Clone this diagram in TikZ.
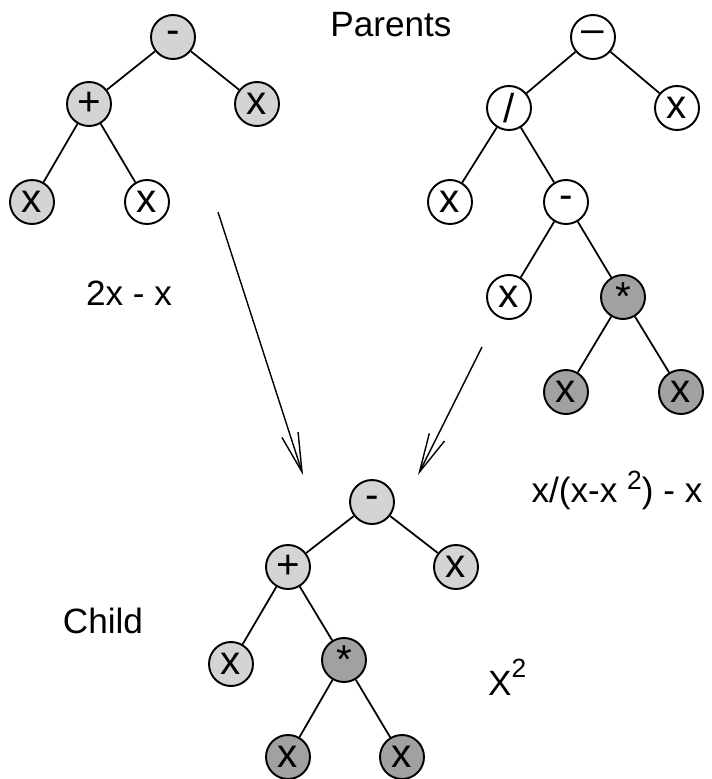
\documentclass[tikz,border=0pt]{standalone}
\usepackage{fontspec}
\setmainfont{Liberation Sans}
\usepackage{tikz}
\usetikzlibrary{arrows.meta}
\usepackage{xcolor}

\definecolor{lightfill}{gray}{0.83}
\definecolor{darkfill}{gray}{0.63}
\newcommand{\supnum}[2]{\raisebox{#1}{\fontsize{15}{17}\selectfont #2}}

\begin{document}
\begin{tikzpicture}[
    tnode/.style={circle, draw, line width=1.1pt, minimum size=0.88cm, inner sep=0pt, font=\fontsize{23}{26}\selectfont},
    plain/.style={tnode, fill=white},
    light/.style={tnode, fill=lightfill},
    dark/.style={tnode, fill=darkfill},
    edge/.style={line width=1pt},
    lbl/.style={font=\fontsize{20}{24}\selectfont},
    arr/.style={-{Straight Barb[length=0.78cm, width=0.34cm]}, line width=0.8pt}
]
\useasboundingbox (0,0) rectangle (14.24,-15.58);

% Left parent: 2x - x
\node[light] (lroot) at (3.46,-0.74) {-};
\node[light] (lplus) at (1.78,-2.08) {+};
\node[light] (lx3) at (5.14,-2.08) {x};
\node[light] (lx1) at (0.64,-4.04) {x};
\node[plain] (lx2) at (2.94,-4.04) {x};

\draw[edge] (lroot) -- (lplus);
\draw[edge] (lroot) -- (lx3);
\draw[edge] (lplus) -- (lx1);
\draw[edge] (lplus) -- (lx2);

% Right parent: x/(x-x^2) - x
\node[plain] (rroot) at (11.86,-0.74) {–};
\node[plain] (rdiv) at (10.18,-2.16) {/};
\node[plain] (rx5) at (13.54,-2.16) {x};
\node[plain] (rx1) at (9.0,-4.04) {x};
\node[plain] (rminus) at (11.32,-4.04) {-};
\node[plain] (rx2) at (10.18,-5.94) {x};
\node[dark] (rstar) at (12.46,-5.94) {*};
\node[dark] (rx3) at (11.32,-7.84) {x};
\node[dark] (rx4) at (13.62,-7.84) {x};

\draw[edge] (rroot) -- (rdiv);
\draw[edge] (rroot) -- (rx5);
\draw[edge] (rdiv) -- (rx1);
\draw[edge] (rdiv) -- (rminus);
\draw[edge] (rminus) -- (rx2);
\draw[edge] (rminus) -- (rstar);
\draw[edge] (rstar) -- (rx3);
\draw[edge] (rstar) -- (rx4);

% Child
\node[light] (croot) at (7.44,-10.04) {-};
\node[light] (cplus) at (5.76,-11.34) {+};
\node[light] (cx3) at (9.12,-11.34) {x};
\node[light] (cx1) at (4.62,-13.28) {x};
\node[dark] (cstar) at (6.88,-13.2) {*};
\node[dark] (cx2) at (5.76,-15.14) {x};
\node[dark] (cx4) at (8.04,-15.14) {x};

\draw[edge] (croot) -- (cplus);
\draw[edge] (croot) -- (cx3);
\draw[edge] (cplus) -- (cx1);
\draw[edge] (cplus) -- (cstar);
\draw[edge] (cstar) -- (cx2);
\draw[edge] (cstar) -- (cx4);

% Labels
\node[lbl] (parents) at (7.82,-0.5) {Parents};
\node[lbl] (lexpr) at (2.58,-5.86) {2x - x};
\node[lbl, anchor=base] (rexpr) at (12.34,-10.04) {x/(x-x \supnum{7pt}{2}) - x};
\node[lbl] (child) at (2.06,-12.42) {Child};
\node[lbl, anchor=base west] (cexpr) at (9.64,-13.9) {X\supnum{10pt}{2}};

% Crossover arrows
\coordinate (lfrom) at (4.36,-4.24);
\coordinate (lto) at (6.06,-9.5);
\coordinate (rfrom) at (9.64,-6.94);
\coordinate (rto) at (8.36,-9.5);
\draw[arr] (lfrom) -- (lto);
\draw[arr] (rfrom) -- (rto);

\end{tikzpicture}
\end{document}
